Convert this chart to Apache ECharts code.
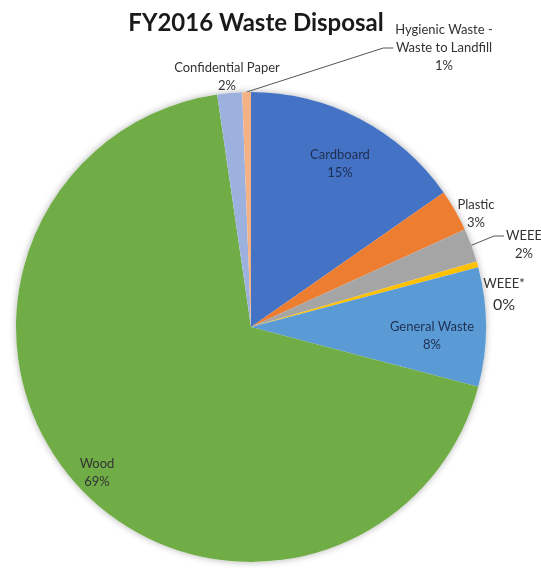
<!DOCTYPE html>
<html>
<head>
<meta charset="utf-8">
<script src="https://cdn.jsdelivr.net/npm/echarts@6/dist/echarts.min.js"></script>
<style>
  html, body { margin: 0; padding: 0; background: #fff; }
  #chart { width: 541px; height: 568px; }
</style>
</head>
<body>
<div id="chart"></div>
<script>
// Waste streams, in clockwise order from 12 o'clock
const categories = [
  'Cardboard', 'Plastic', 'WEEE', 'WEEE*', 'General Waste',
  'Wood', 'Confidential Paper', 'Hygienic Waste - Waste to Landfill'
];
// Share of total disposal (percent)
const shares = [15.3, 2.9, 2.3, 0.4, 8.2, 68.6, 1.7, 0.6];
const colors = ['#4472C4', '#ED7D31', '#A5A5A5', '#FFC000', '#5B9BD5',
                '#70AD47', '#9DB1DE', '#F4B183'];

// Where each data label sits (label block centre), and which ones get a leader line
const labelSpots = {
  'Cardboard': [340, 164],
  'Plastic': [476, 214],
  'WEEE': [524, 245],
  'WEEE*': [504, 296],
  'General Waste': [432, 336],
  'Wood': [97, 473],
  'Confidential Paper': [227, 77],
  'Hygienic Waste - Waste to Landfill': [444, 48]
};
const withLeader = ['WEEE', 'Hygienic Waste - Waste to Landfill'];
const onBlue = ['Cardboard', 'General Waste'];

const chart = echarts.init(document.getElementById('chart'));

const data = categories.map((name, i) => ({
  name,
  value: shares[i],
  itemStyle: { color: colors[i] },
  label: onBlue.includes(name) ? { color: '#1F2F52' } : {},
  labelLine: { show: withLeader.includes(name) }
}));

const pieCenter = [251, 327];
const pieRadius = 235;

chart.setOption({
  animation: false,
  title: {
    text: 'FY2016 Waste Disposal',
    left: 251,
    top: 6,
    textAlign: 'center',
    textStyle: { fontFamily: 'Lato', fontWeight: 'bold', fontSize: 24, color: '#1a1a1a' }
  },
  series: [
    {
      // soft grey halo behind the pie
      type: 'pie',
      silent: true,
      z: 1,
      center: pieCenter,
      radius: pieRadius,
      label: { show: false },
      labelLine: { show: false },
      itemStyle: { color: '#fff', shadowBlur: 7, shadowColor: 'rgba(0,0,0,0.3)' },
      data: [{ name: 'halo', value: 1 }]
    },
    {
      type: 'pie',
      z: 2,
      center: pieCenter,
      radius: pieRadius,
      startAngle: 90,
      clockwise: true,
      avoidLabelOverlap: false,
      percentPrecision: 0,
      itemStyle: { borderWidth: 0 },
      label: {
        show: true,
        position: 'outside',
        fontFamily: 'Lato',
        fontSize: 13,
        lineHeight: 18,
        color: '#333',
        align: 'center',
        formatter: p => {
          const name = p.name.replace(' - ', ' -\n');
          if (p.name === 'WEEE*') return name + '\n{big|' + p.percent + '%}';
          return name + '\n' + p.percent + '%';
        },
        rich: {
          big: { fontFamily: 'Lato', fontSize: 16, lineHeight: 24, color: '#333' }
        }
      },
      labelLine: {
        show: false,
        length: 10,
        length2: 10,
        lineStyle: { color: '#555', width: 1 }
      },
      labelLayout: params => {
        const name = categories[params.dataIndex];
        const spot = labelSpots[name];
        const out = { x: spot[0], y: spot[1], align: 'center', verticalAlign: 'middle' };
        if (withLeader.includes(name) && params.labelLinePoints) {
          const start = params.labelLinePoints[0];
          const h = params.labelRect.height;
          const w = params.labelRect.width;
          // leader ends with a short horizontal tail beside a text line
          const endY = name === 'WEEE' ? spot[1] - h / 4 : spot[1];
          const endX = spot[0] - w / 2 - 2;
          out.labelLinePoints = [start, [endX - 10, endY], [endX, endY]];
        }
        return out;
      },
      data
    }
  ]
});
</script>
</body>
</html>
